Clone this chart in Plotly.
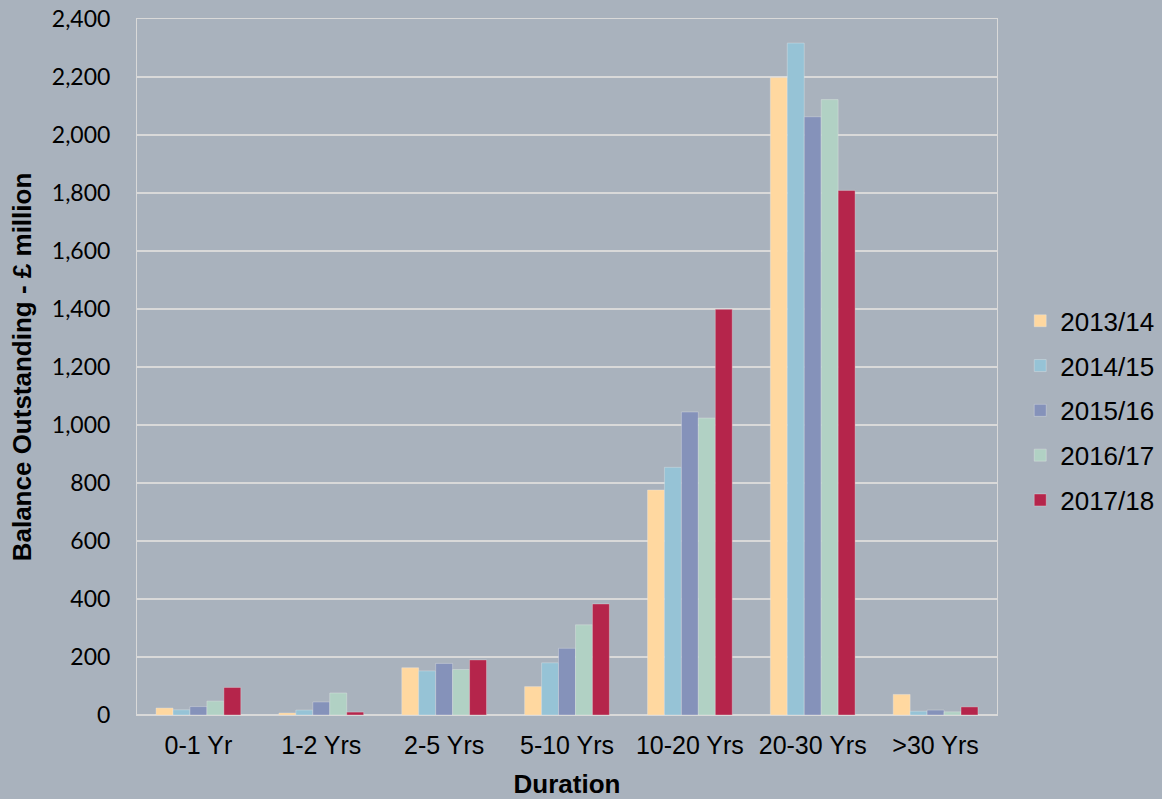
import plotly.graph_objects as go

durations = ["0-1 Yr", "1-2 Yrs", "2-5 Yrs", "5-10 Yrs", "10-20 Yrs", "20-30 Yrs", ">30 Yrs"]

bal_2013_14 = [24, 7, 163, 98, 776, 2198, 71]
bal_2014_15 = [18, 17, 152, 180, 854, 2317, 13]
bal_2015_16 = [29, 45, 178, 230, 1045, 2063, 17]
bal_2016_17 = [48, 76, 157, 311, 1024, 2122, 11]
bal_2017_18 = [95, 10, 190, 383, 1399, 1809, 28]

series = [
    ("2013/14", bal_2013_14, "#FFD8A0"),
    ("2014/15", bal_2014_15, "#96C3D6"),
    ("2015/16", bal_2015_16, "#8592BA"),
    ("2016/17", bal_2016_17, "#B1D1C4"),
    ("2017/18", bal_2017_18, "#B5254B"),
]

fig = go.Figure()
for name, vals, col in series:
    fig.add_trace(go.Bar(
        x=durations, y=vals, name=name, legendgroup=name,
        marker=dict(color=col, line=dict(color="rgba(235,235,235,0.35)", width=1)),
    ))

bg = "#A9B2BD"
fig.update_layout(
    width=1162, height=799,
    paper_bgcolor=bg, plot_bgcolor=bg,
    margin=dict(l=137, r=165, t=19, b=84, autoexpand=False),
    barmode="group", bargap=0.31, bargroupgap=0,
    font=dict(family="Liberation Sans, Arial, sans-serif", color="#000000", size=25),
    legend=dict(
        x=1.027, y=0.437, xanchor="left", yanchor="middle",
        font=dict(size=26), tracegroupgap=8, bgcolor="rgba(0,0,0,0)",
        itemwidth=30,
    ),
    showlegend=True,
)
fig.update_yaxes(
    range=[0, 2400], dtick=200, tickformat=",",
    showgrid=True, gridcolor="#D9D9D9", gridwidth=2,
    zeroline=True, zerolinecolor="#D9D9D9", zerolinewidth=2,
    showline=True, linecolor="#D9D9D9", linewidth=1, mirror=True,
    ticks="", ticklen=0, automargin=True, ticklabelstandoff=21,
    tickfont=dict(family="Lato, Open Sans, sans-serif", size=23),
    title=dict(text="<b>Balance Outstanding - £ million</b>", font=dict(size=26), standoff=12),
)
fig.update_xaxes(
    showline=True, linecolor="#D9D9D9", linewidth=1, mirror=True,
    automargin=False, ticklabelstandoff=8,
    tickfont=dict(size=25),
    title=dict(text="<b>Duration</b>", font=dict(size=26), standoff=20),
)

fig.write_html("out.html")
